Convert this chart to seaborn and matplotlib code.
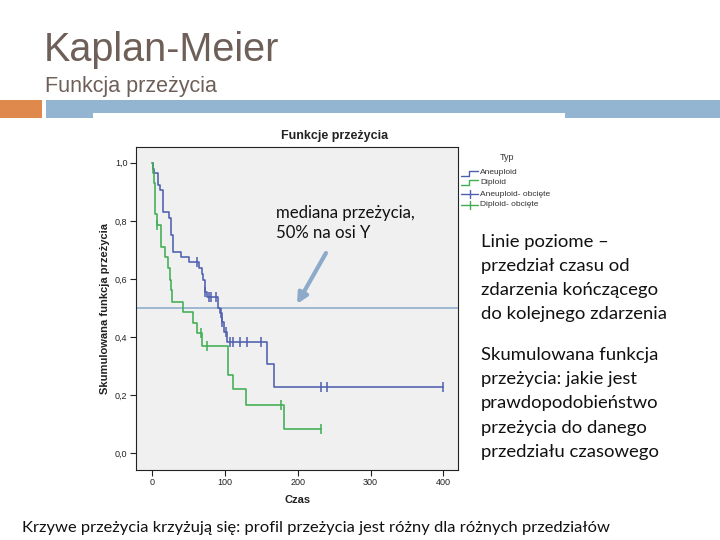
import numpy as np
import pandas as pd
import matplotlib
matplotlib.use("Agg")
import matplotlib.pyplot as plt
from matplotlib.patches import Rectangle
from matplotlib.lines import Line2D
import seaborn as sns

# ---------------- data ----------------
aneu_times = [0, 1.5, 3, 8, 11, 15, 23, 26, 29, 39, 51, 64, 68, 70, 72, 75, 91, 92.5,
              95.5, 99, 103, 157, 167, 400]
aneu_surv = [1.0, 0.98, 0.963, 0.923, 0.906, 0.831, 0.809, 0.751, 0.694, 0.675, 0.657,
             0.637, 0.616, 0.596, 0.556, 0.539, 0.50, 0.482, 0.453, 0.418, 0.384, 0.306,
             0.227, 0.227]
aneu_censored = [61, 72.4, 78.4, 80.7, 87.6, 94, 96.3, 102, 106.8, 111.3, 120.5, 130.6,
                 149.4, 231.5, 240.6, 400]

dip_times = [0, 1, 2.5, 4, 6, 11.5, 17.4, 22, 24.3, 26, 27.5, 41.7, 56.4, 61.9, 68.7,
             104.5, 111.3, 129, 181.5, 231.5]
dip_surv = [1.0, 0.964, 0.929, 0.822, 0.786, 0.711, 0.677, 0.637, 0.596, 0.562, 0.522,
            0.485, 0.447, 0.413, 0.369, 0.269, 0.221, 0.166, 0.083, 0.083]
dip_censored = [6.5, 66.5, 75.6, 176.6, 231.5]

x_ticks = [0, 100, 200, 300, 400]
y_ticks = [0.0, 0.2, 0.4, 0.6, 0.8, 1.0]
y_tick_labels = ["0,0", "0,2", "0,4", "0,6", "0,8", "1,0"]
median_level = 0.5

legend_labels = ["Aneuploid", "Diploid", "Aneuploid- obcięte", "Diploid- obcięte"]

right_par1 = ["Linie poziome –", "przedział czasu od", "zdarzenia kończącego",
              "do kolejnego zdarzenia"]
right_par2 = ["Skumulowana funkcja", "przeżycia: jakie jest", "prawdopodobieństwo",
              "przeżycia do danego", "przedziału czasowego"]
bottom_text = "Krzywe przeżycia krzyżują się: profil przeżycia jest różny dla różnych przedziałów"
median_text = ["mediana przeżycia,", "50% na osi Y"]

BLUE = "#4f5fae"
GREEN = "#3fae52"
TITLE_C = "#6e5f58"

# ---------------- figure ----------------
sns.set_theme(style="white")
plt.rcParams["font.family"] = ["Liberation Sans", "DejaVu Sans"]

W, H = 720, 540
fig = plt.figure(figsize=(7.2, 5.4), dpi=100)
fig.patch.set_facecolor("white")


def fx(x):
    return x / W


def fy(y):
    return 1 - y / H


# slide header
fig.text(fx(44), fy(61), "Kaplan-Meier", fontsize=28.5, color=TITLE_C,
         va="baseline", ha="left", family=["Liberation Sans", "DejaVu Sans"])
fig.text(fx(45), fy(91.5), "Funkcja przeżycia", fontsize=15.5, color=TITLE_C,
         va="baseline", ha="left", family=["Liberation Sans", "DejaVu Sans"])

fig.patches.append(Rectangle((fx(0), fy(118)), fx(42), 18 / H, transform=fig.transFigure,
                             facecolor="#df8a4c", edgecolor="none", zorder=1))
fig.patches.append(Rectangle((fx(46), fy(118)), fx(720 - 46), 18 / H, transform=fig.transFigure,
                             facecolor="#93b5d1", edgecolor="none", zorder=1))
fig.patches.append(Rectangle((fx(93), fy(118)), fx(565 - 93), 5 / H, transform=fig.transFigure,
                             facecolor="white", edgecolor="none", zorder=2))

# ---------------- axes ----------------
ax = fig.add_axes([fx(135.7), fy(470), (458.3 - 135.7) / W, (470 - 147.3) / H])
ax.set_facecolor("#f0f0f0")

aneu_df = pd.DataFrame({"Czas": aneu_times, "S": aneu_surv})
dip_df = pd.DataFrame({"Czas": dip_times, "S": dip_surv})

sns.lineplot(data=aneu_df, x="Czas", y="S", estimator=None, sort=False,
             drawstyle="steps-post", color=BLUE, lw=1.15, ax=ax, zorder=3)
sns.lineplot(data=dip_df, x="Czas", y="S", estimator=None, sort=False,
             drawstyle="steps-post", color=GREEN, lw=1.15, ax=ax, zorder=3)


def step_value(times, surv, t):
    idx = np.searchsorted(np.asarray(times), t, side="right") - 1
    return np.asarray(surv)[idx]


aneu_c_df = pd.DataFrame({"Czas": aneu_censored,
                          "S": step_value(aneu_times, aneu_surv, aneu_censored)})
dip_c_df = pd.DataFrame({"Czas": dip_censored,
                         "S": step_value(dip_times, dip_surv, dip_censored)})
sns.scatterplot(data=aneu_c_df, x="Czas", y="S", marker="|", s=55, color=BLUE,
                linewidth=1.1, ax=ax, zorder=4)
sns.scatterplot(data=dip_c_df, x="Czas", y="S", marker="|", s=55, color=GREEN,
                linewidth=1.1, ax=ax, zorder=4)

ax.axhline(median_level, color="#8aa7cb", lw=1.1, zorder=2)

ax.set_xlim(-22.8, 420.6)
ax.set_ylim(-0.0575, 1.053)
ax.set_xticks(x_ticks)
ax.set_xticklabels([str(v) for v in x_ticks])
ax.set_yticks(y_ticks)
ax.set_yticklabels(y_tick_labels)
ax.tick_params(axis="both", which="both", direction="out", length=4, width=0.8,
               labelsize=6.5, colors="#222222", pad=2, left=True, bottom=True)
for sp in ax.spines.values():
    sp.set_color("#222222")
    sp.set_linewidth(0.8)
ax.set_xlabel("")
ax.set_ylabel("")

# chart texts
fig.text(fx(335), fy(136), "Funkcje przeżycia", fontsize=9, fontweight="bold",
         ha="center", va="center", color="#222222")
fig.text(fx(105), fy(308), "Skumulowana funkcja przeżycia", fontsize=8, fontweight="bold",
         ha="center", va="center", rotation=90, color="#222222")
fig.text(fx(298), fy(500), "Czas", fontsize=8, fontweight="bold",
         ha="center", va="center", color="#222222")

# legend
fig.text(fx(507), fy(157), "Typ", fontsize=6.5, ha="center", va="center", color="#333333")
leg_y = [173, 182.5, 194, 205]
leg_cols = [BLUE, GREEN, BLUE, GREEN]
for i, (lab, yy, col) in enumerate(zip(legend_labels, leg_y, leg_cols)):
    if i < 2:
        xs = [fx(461), fx(469), fx(469), fx(478)]
        ys = [fy(yy + 2.5), fy(yy + 2.5), fy(yy - 2.5), fy(yy - 2.5)]
        fig.add_artist(Line2D(xs, ys, color=col, lw=1.0, transform=fig.transFigure))
    else:
        fig.add_artist(Line2D([fx(461), fx(478)], [fy(yy), fy(yy)], color=col, lw=1.0,
                              transform=fig.transFigure))
        fig.add_artist(Line2D([fx(469.5), fx(469.5)], [fy(yy - 4), fy(yy + 4)], color=col,
                              lw=1.0, transform=fig.transFigure))
    fig.text(fx(480), fy(yy), lab, fontsize=6, ha="left", va="center", color="#333333")

# annotation text + arrow
for k, line in enumerate(median_text):
    fig.text(fx(276), fy(212.5 + 21 * k), line, fontsize=12.1, ha="left", va="center",
             color="#111111", family=["Lato", "DejaVu Sans"])
ax.annotate("", xy=(fx(297), fy(304)), xycoords="figure fraction",
            xytext=(fx(326), fy(253)), textcoords="figure fraction",
            arrowprops=dict(arrowstyle="-|>,head_length=0.5,head_width=0.25",
                            color="#8eaacb", lw=3, shrinkA=0, shrinkB=0))

# right-hand explanatory text
for k, line in enumerate(right_par1):
    fig.text(fx(481), fy(241.5 + 24.3 * k), line, fontsize=13.3, ha="left", va="center",
             color="#111111", family=["Lato", "DejaVu Sans"])
for k, line in enumerate(right_par2):
    fig.text(fx(481), fy(355 + 24.2 * k), line, fontsize=13.3, ha="left", va="center",
             color="#111111", family=["Lato", "DejaVu Sans"])

fig.text(fx(22), fy(528), bottom_text, fontsize=11.85, ha="left", va="center",
         color="#111111", family=["Lato", "DejaVu Sans"])

fig.savefig("out.png", dpi=100, facecolor="white")
